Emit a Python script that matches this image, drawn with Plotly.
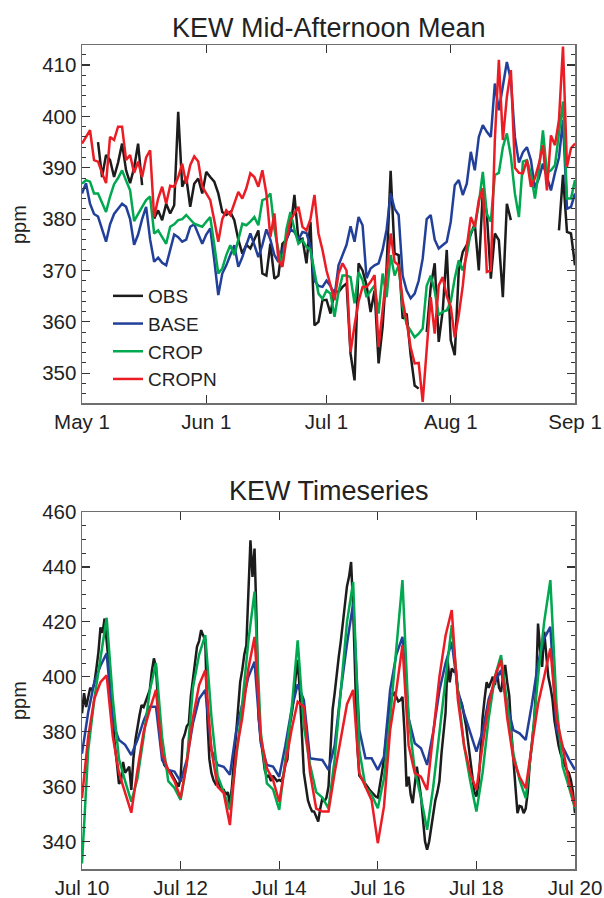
import pandas as pd
import plotly.graph_objects as go

# ---------------- Top panel: daily mid-afternoon means, May 1 - Sep 1 ----------------
top_dates = pd.date_range("2007-05-01", "2007-09-01", freq="D")

top_obs = [None, None, None, None, 395, 388.2, 392.5, 391.5, 388.2, 391, 394.7, 389.5, 387, 390, 394.7, 386.6,
           None, None, 380.1, 381.7, 379.8, 383, 381.1, 382.7, 400.9, 386.3, 388.2, 382.4, 386.9, 387.9, 385,
           389.2, 388.2, 387.3, 385, 381.4, 380.8, 381.4, 379.8, 376, 373.3, 375, 374.3, 375.9, 377.8, 369.4,
           369, 375.2, 368.4, 369, 375.2, 376, 378, 384.7, 375.9, 376.2, 371.4, 379.5, 359.3, 360, 364.2,
           364.3, 361.6, 366.1, 365.8, 366.8, 367.5, 353.8, 348.6, 371.4, 370, 367.1, 361.9, 366.1, 351.9,
           359, 370.7, 389.4, 373.3, 373, 360.6, 361.6, 353.5, 347.6, 347, None, 358, 366.8, 371.4, 356.1,
           362.2, 374, 356.4, 353.5, 370, 373.6, 375, 377.2, 379.1, 370, 385.3, 381.1, 368.4, 377.2, 375.9,
           364.8, 383, 379.8, None, None, None, None, None, None, None, None, None, None, None, 377.8, 388.6,
           377.5, 377.2, 371]
top_base = [385, 387, 383, 381, 380.5, 378, 375.6, 379, 381, 382, 383, 382.4, 380, 375, 377, 380, 382.4,
            376, 371.7, 372.5, 371.5, 371, 374, 377, 376.5, 375.6, 376, 378.5, 379, 377, 375.2, 377, 378.2,
            372, 365.2, 369.4, 371, 373, 374.9, 370.7, 372.6, 375, 377.2, 375, 372.6, 375, 378, 376, 373,
            371.7, 374, 376, 378, 377.5, 376, 377.5, 377.3, 374.6, 368, 367, 366.8, 368, 367, 364.8, 371,
            373, 375, 378.6, 375.6, 380.4, 378.8, 368.5, 370.4, 371, 371.4, 374, 378, 385, 382, 380.8, 369,
            366.1, 364.6, 365.5, 368, 372.3, 380, 380.8, 376, 374.3, 375, 375.6, 379.5, 386.6, 387.6, 384.7,
            386.9, 393.1, 389.5, 396, 398.3, 397, 396, 406.4, 401.2, 406, 410.6, 407.1, 396, 391, 393, 394,
            391.5, 386, 388, 390.8, 388, 385.6, 389, 392, 399.3, 382, 382.4, 385]
top_crop = [386.9, 387.6, 387.3, 385, 385, 383, 381.4, 384.4, 386.8, 388, 389.5, 387.5, 385.6, 379.6,
            381.1, 382.4, 383.7, 384.4, 377.2, 377.8, 376.5, 375.2, 378.5, 379, 379.8, 380, 380.8, 380,
            379.1, 378.8, 378.5, 379.5, 380.4, 375, 369.4, 370.4, 373, 374.9, 373, 376, 379.1, 378.8, 379.5,
            380.4, 378.8, 383.7, 384, 385, 378, 374, 371, 378, 381.4, 378, 375.2, 375.9, 374.6, 374, 370,
            365.5, 364.5, 366.1, 365.5, 361, 365.8, 369, 369, 368.7, 363.6, 369.7, 368.1, 364.8, 366, 367.1,
            361.6, 369.4, 364.8, 373, 369, 371, 363, 359.5, 358.3, 357, 357.7, 358.7, 367, 369, 366, 361.3,
            362, 362.2, 363.9, 368.5, 372, 370, 373, 377.5, 378.5, 383, 389.2, 381, 379.5, 388.6, 389, 394,
            396.7, 392.2, 385, 380.4, 391.2, 391.5, 388.9, 384, 389.5, 397.3, 389, 389.5, 390.5, 397.3, 402.9,
            384, 384, 387.6]
top_cropn = [394.7, 396, 397.3, 391.5, 391.2, 389, 387, 396, 395.4, 398, 398, 391.5, 392.5, 389, 391.2,
             388.2, 392, 393.4, 380.4, 384, 386.3, 383, 386.5, 386.3, 388.2, 390.8, 386.9, 390.5, 392.2,
             391.2, 386.3, 385, 383.7, 379.8, 375.6, 380, 381.7, 380.8, 383, 385.3, 384, 386, 388.9, 388.2,
             386.3, 389.5, 385, 376.5, 381.1, 372, 370.7, 376, 379.8, 381, 382.4, 378.5, 377.8, 380, 384.7,
             377.2, 374, 370, 366.8, 364.2, 369.4, 371.4, 370, 354.1, 359.3, 364, 366.8, 366.8, 367.8, 369.1,
             355.1, 361.9, 369.4, 377.2, 371.7, 371, 364.2, 360, 355, 351.9, 352, 344.4, 355, 364.8, 357.7,
             367.1, 368.7, 365, 363, 357, 361.3, 367, 374.6, 380.4, 378.5, 383.7, 386, 369.7, 370, 395.4, 411,
             395.4, 403.8, 409, 390, 389, 388.9, 391.5, 386.3, 388, 390.8, 394.4, 385.6, 396.3, 394.4, 399.3,
             413.6, 390.2, 393.8, 394.7]

# ---------------- Bottom panel: timeseries Jul 10 - Jul 20 ----------------
obs_times = pd.date_range("2007-07-10 00:00", "2007-07-20 00:00", freq="h")
mod_times = pd.date_range("2007-07-10 00:00", "2007-07-20 00:00", freq="3h")

ts_obs = [386.7, 394, 389, 392, 396, 395, 397.6, 403, 409, 418, 416, 421.2, 414, 405, 393, 383, 375, 368.5,
          361, 362, 369, 365, 366, 367.3,
          358.8, 370, 377, 382, 386, 389.7, 389, 391, 393, 395.2, 402, 406.7, 403.6, 390, 378.2, 372, 368,
          367, 366, 365.5, 364, 362.4, 361, 360,
          363, 377, 379, 382, 383, 393, 399, 406, 411, 413, 417, 415, 413.4, 385, 370, 365, 362.4, 361, 362,
          360.6, 359, 358.8, 357, 358,
          353.3, 360, 370, 380, 390, 398, 402.4, 408, 411.5, 430, 449.7, 436.4, 446.7, 420, 385, 377.6, 372,
          366, 363.6, 364, 362, 364, 363, 362,
          362.4, 362, 364, 368, 370, 381.8, 386, 391.5, 400, 406.1, 395, 378, 365, 360, 355, 352.7, 351,
          350.9, 349, 347.3, 352, 355.8, 354.5, 356,
          360, 374.5, 388, 394, 402, 407.3, 413, 419.4, 425, 433, 436.4, 441.8, 425, 395, 375, 364, 363,
          362.4, 361, 360, 358.8, 358, 357, 356.4,
          356, 360, 365, 370, 378, 385, 391.5, 393, 394, 392.7, 391, 391.5, 392.7, 380, 360, 363.6, 357,
          354, 360, 367.3, 362, 356.4, 348, 340,
          337, 340, 345, 350, 355, 358, 362, 372, 380, 387, 406, 398, 403, 402, 402.4, 394, 392, 390, 386,
          382, 376, 370, 364, 358,
          356.4, 361, 372, 385, 392, 398, 396, 398.2, 400, 397, 402.4, 396, 394.5, 400, 404.3, 398, 393,
          380, 368.5, 360, 350.3, 353, 352.7, 350.3,
          352, 358, 368.5, 376, 383, 395, 419.4, 410, 403.6, 416.4, 407.3, 400, 396.4, 392, 384, 379.4, 375,
          372, 370, 368, 366.1, 365, 362.4, 358, 350.3]
ts_base = [372, 387, 398, 404, 408.5, 383, 377, 375.2,
           371.5, 377, 384, 389.1, 389.1, 369.7, 366.1, 365.5,
           361.8, 369.7, 383, 392, 395.2, 373.3, 367.9, 367.2,
           364.3, 380, 390, 400, 405.5, 376, 367.9, 367.3,
           363.6, 375, 388, 397.3, 391.5, 370.3, 370, 369.7,
           366.1, 375, 395, 412, 426.7, 380.6, 370.3, 370.3,
           366.1, 370.9, 395.2, 408, 414.5, 385, 375.8, 374,
           367.9, 380, 395, 405, 412.7, 395, 386.7, 379.4,
           372.7, 380, 392, 398, 402.4, 390, 380.6, 379.4,
           377, 390, 405, 414, 418.2, 380.6, 374.5, 370,
           366.1]
ts_crop = [332, 373, 392, 407, 421.5, 392, 370, 362,
           354.5, 363, 378, 395, 405, 378, 362, 359.5,
           355.2, 368.5, 396, 408, 415.2, 385.5, 364, 358,
           351.5, 370, 390, 413, 431, 380, 361.2, 359,
           351.5, 370, 387.9, 413.3, 382, 368, 358, 356,
           352.1, 370, 395, 420, 434.5, 373.3, 360, 357,
           352.1, 363, 385, 410, 435.2, 385, 366, 356,
           344.3, 360, 380, 400, 418.8, 395, 375, 362,
           350.9, 365, 385, 400, 407.9, 390, 372, 362.4,
           355.8, 375, 400, 420, 435.2, 390, 367.3, 360,
           352.1]
ts_cropn = [355.8, 378, 392, 398, 400.5, 378.2, 365, 358,
            350.5, 366, 380, 388, 395.2, 372.1, 366, 362,
            355.8, 368.5, 385, 397, 402.4, 373.3, 360, 357.6,
            346, 372, 385, 403, 414.5, 378.2, 366.7, 362.4,
            354.5, 368, 380.6, 390.9, 389.1, 365, 352, 350.9,
            350.9, 365, 378, 390, 395.2, 364.9, 360, 355,
            339.4, 352.7, 380.6, 395, 411.5, 375, 364.9, 363.6,
            358.8, 380, 400, 415, 424.3, 391.5, 375, 365,
            358.8, 375, 390, 400, 406.1, 385, 370, 363.6,
            359.4, 375, 390, 400, 410.3, 385, 374.5, 362,
            352.7]

series_names = ["OBS", "BASE", "CROP", "CROPN"]
series_colors = ["#1c1c1c", "#22409a", "#00a84f", "#ec1c24"]

top_values = [top_obs, top_base, top_crop, top_cropn]
bot_times = [obs_times, mod_times, mod_times, mod_times]
bot_values = [ts_obs, ts_base, ts_crop, ts_cropn]

FONT = "Liberation Sans, Arial, Helvetica, sans-serif"
W, H = 604, 898
ML, MR, MT, MB = 82, 29, 45, 29
plot_h = H - MT - MB
plot_w = W - ML - MR


def py(pix):
    """convert a pixel row (from top of figure) to paper y"""
    return 1 - (pix - MT) / plot_h


def px(pix):
    """convert a pixel column (from left of figure) to paper x"""
    return (pix - ML) / plot_w


fig = go.Figure()

for name, color, vals in zip(series_names, series_colors, top_values):
    fig.add_trace(go.Scatter(x=top_dates, y=vals, mode="lines", name=name,
                             line=dict(color=color, width=2.5), connectgaps=False,
                             xaxis="x", yaxis="y", showlegend=True, hoverinfo="skip"))

for name, color, t, vals in zip(series_names, series_colors, bot_times, bot_values):
    fig.add_trace(go.Scatter(x=t, y=vals, mode="lines", name=name,
                             line=dict(color=color, width=2.5),
                             xaxis="x2", yaxis="y2", showlegend=False, hoverinfo="skip"))

axis_common = dict(showgrid=False, zeroline=False, showline=True, linecolor="#6e6e6e",
                   linewidth=1.5, mirror="ticks", ticks="inside", tickcolor="#333333",
                   tickwidth=1.2, automargin=False,
                   tickfont=dict(family=FONT, size=20.5, color="#222222"))

fig.update_layout(
    template="none",
    width=W, height=H, autosize=False,
    margin=dict(l=ML, r=MR, t=MT, b=MB, pad=0),
    plot_bgcolor="white", paper_bgcolor="white",
    font=dict(family=FONT, color="#222222"),
    xaxis=dict(**axis_common, domain=[0, 1], anchor="y", type="date",
               range=["2007-05-01", "2007-09-01"], dtick="M1", tick0="2007-05-01",
               tickformat="%b %-d", ticklen=8),
    yaxis=dict(**axis_common, domain=[py(403), 1.0], anchor="x",
               range=[344.2, 413.9], dtick=10, tick0=350, ticklen=8,
               minor=dict(ticks="inside", dtick=2, ticklen=4, tickcolor="#333333", tickwidth=1)),
    xaxis2=dict(**axis_common, domain=[0, 1], anchor="y2", type="date",
                range=["2007-07-10", "2007-07-20"], dtick=2 * 86400000, tick0="2007-07-10",
                tickformat="%b %d", ticklen=8),
    yaxis2=dict(**axis_common, domain=[0.0, py(512)], anchor="x2",
                range=[330, 460], dtick=20, tick0=340, ticklen=8,
                minor=dict(ticks="inside", dtick=5, ticklen=4, tickcolor="#333333", tickwidth=1)),
    showlegend=True,
    legend=dict(x=px(108), y=py(277), xanchor="left", yanchor="top", bgcolor="rgba(0,0,0,0)",
                borderwidth=0, font=dict(family=FONT, size=19, color="#222222"), tracegroupgap=0),
    annotations=[
        dict(text="KEW Mid-Afternoon Mean", x=0.5, y=py(28), xref="paper", yref="paper",
             xanchor="center", yanchor="middle", showarrow=False,
             font=dict(family=FONT, size=27, color="#222222")),
        dict(text="KEW Timeseries", x=0.5, y=py(491), xref="paper", yref="paper",
             xanchor="center", yanchor="middle", showarrow=False,
             font=dict(family=FONT, size=27, color="#222222")),
        dict(text="ppm", x=px(19), y=py(224), xref="paper", yref="paper",
             xanchor="center", yanchor="middle", textangle=-90, showarrow=False,
             font=dict(family=FONT, size=20, color="#222222")),
        dict(text="ppm", x=px(19), y=py(700), xref="paper", yref="paper",
             xanchor="center", yanchor="middle", textangle=-90, showarrow=False,
             font=dict(family=FONT, size=20, color="#222222")),
    ],
)

fig.write_html("out.html", config={"displayModeBar": False, "staticPlot": True},
               post_script="document.body.style.margin='0';")
